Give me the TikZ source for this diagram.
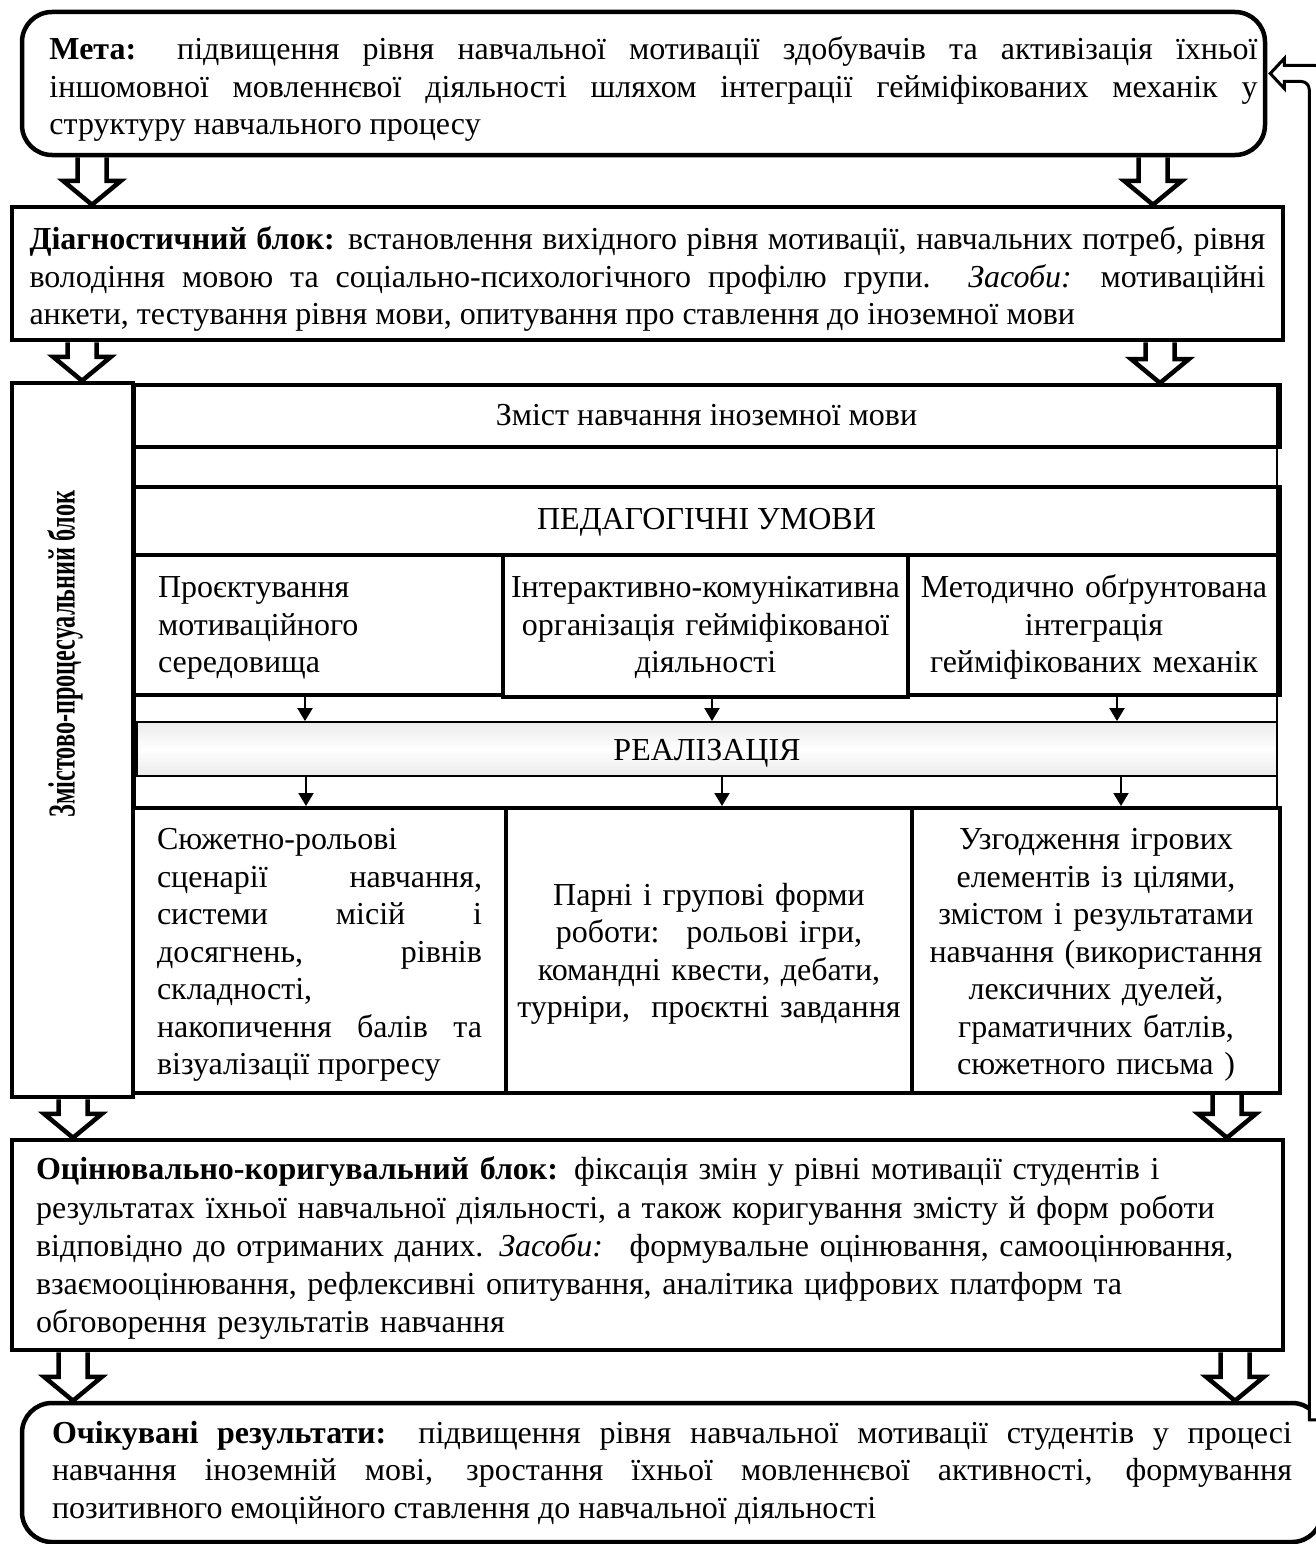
\documentclass[tikz,border=0pt]{standalone}
\usepackage{fontspec}
\usepackage{graphicx}
\setmainfont{Liberation Serif}
\usetikzlibrary{arrows.meta,calc}

\newcommand{\bodyfont}{\fontsize{32pt}{37.5pt}\selectfont\hyphenpenalty=10000\exhyphenpenalty=10000\relax}

\tikzset{
  blockbox/.style={draw, line width=4.5pt, inner sep=0pt, font=\bodyfont},
  cellbox/.style={draw, line width=4pt, inner sep=0pt, align=center, font=\bodyfont},
  lowered/.style={execute at begin node={\rule{0pt}{#1}}, execute at end node={\rule[-10pt]{0pt}{0pt}}},
  smallarrow/.style={-{Triangle[length=13pt,width=15pt]}, line width=2pt},
  hollowarrow/.style={draw, line width=4.5pt, line join=miter},
  feedback/.style={draw, fill=white, line width=3pt, line join=miter}
}

\newcommand{\hollowdown}[2]{%
  \path #1 coordinate (ha) #2 coordinate (hb);
  \draw[hollowarrow] ($(ha)+(-14.5,0)$) -- ($(hb)+(-14.5,-24)$) -- ($(hb)+(-29,-24)$) -- (hb)
    -- ($(hb)+(29,-24)$) -- ($(hb)+(14.5,-24)$) -- ($(ha)+(14.5,0)$);
}

\begin{document}
\begin{tikzpicture}[x=1pt,y=-1pt]
  \useasboundingbox (0,0) rectangle (1316,1544);

  \node[blockbox, rounded corners=30pt, minimum width=1243pt, minimum height=143pt] (goal) at (643.5,83.5) {\hspace*{20pt}\parbox{1208pt}{\rule{0pt}{37.8pt}\textbf{Мета:} підвищення рівня навчальної мотивації здобувачів та активізація їхньої\linebreak іншомовної мовленнєвої діяльності шляхом інтеграції гейміфікованих механік у\linebreak структуру навчального процесу\rule[-10pt]{0pt}{0pt}}};

  \node[blockbox, lowered=37.8pt, minimum width=1271pt, minimum height=133pt, text width=1236pt, align=justify] (diag) at (647.5,273.5) {\textbf{Діагностичний блок:} встановлення вихідного рівня мотивації, навчальних потреб, рівня\linebreak володіння мовою та соціально-психологічного профілю групи. \textit{Засоби:} мотиваційні\linebreak анкети, тестування рівня мови, опитування про ставлення до іноземної мови};

  \node[blockbox, minimum width=121pt, minimum height=714pt] (side) at (72.5,740) {};
  \node[rotate=90, font=\fontsize{38pt}{42pt}\selectfont, inner sep=0pt] (sidelabel) at (65,654) {\resizebox{327pt}{\height}{\textbf{Змістово-процесуальний блок}}};

  \node[draw, line width=2.5pt, minimum width=1142pt, minimum height=423pt, inner sep=0pt] (frame) at (706,596.5) {};

  \node[cellbox, lowered=28.8pt, minimum width=1147pt, minimum height=62pt] (content) at (706.5,416) {Зміст навчання іноземної мови};
  \node[cellbox, lowered=27.2pt, minimum width=1147pt, minimum height=68pt] (ped) at (706.5,521) {ПЕДАГОГІЧНІ УМОВИ};

  \node[cellbox, lowered=30.8pt, minimum width=370pt, minimum height=140pt, text width=320pt, align=left] (cond1) at (318,625) {Проєктування\\ мотиваційного\\ середовища};
  \node[cellbox, lowered=28.8pt, minimum width=405pt, minimum height=142pt, text width=400pt] (cond2) at (705.5,626) {Інтерактивно-комунікативна\\ організація гейміфікованої\\ діяльності};
  \node[cellbox, lowered=30.8pt, minimum width=372pt, minimum height=140pt, text width=360pt] (cond3) at (1094,625) {Методично обґрунтована\\ інтеграція\\ гейміфікованих механік};

  \node[draw, lowered=33.2pt, line width=1.8pt, top color=black!8, bottom color=black!8, middle color=white, minimum width=1140pt, minimum height=54pt, inner sep=0pt, font=\bodyfont] (real) at (707,749) {РЕАЛІЗАЦІЯ};

  \node[cellbox, lowered=33.8pt, minimum width=373pt, minimum height=285pt, text width=325pt, align=justify] (impl1) at (319.5,950.5) {Сюжетно-рольові\linebreak сценарії навчання,\linebreak системи місій і\linebreak досягнень, рівнів\linebreak складності,\linebreak накопичення балів та\linebreak візуалізації прогресу};
  \node[cellbox, lowered=31.8pt, minimum width=406pt, minimum height=285pt, text width=400pt] (impl2) at (709,950.5) {Парні і групові форми\\ роботи:~ рольові ігри,\\ командні квести, дебати,\\ турніри,~ проєктні завдання};
  \node[cellbox, lowered=33.8pt, minimum width=368pt, minimum height=285pt, text width=360pt] (impl3) at (1096,950.5) {Узгодження ігрових\\ елементів із цілями,\\ змістом і результатами\\ навчання (використання\\ лексичних дуелей,\\ граматичних батлів,\\ сюжетного письма )};

  \node[blockbox, lowered=32.8pt, font=\fontsize{32pt}{38.25pt}\selectfont, minimum width=1271pt, minimum height=210pt, text width=1223pt, align=left] (eval) at (647.5,1245) {\textbf{Оцінювально-коригувальний блок:} фіксація змін у рівні мотивації студентів і\\ результатах їхньої навчальної діяльності, а також коригування змісту й форм роботи\\ відповідно до отриманих даних. \textit{Засоби:}~ формувальне оцінювання, самооцінювання,\\ взаємооцінювання, рефлексивні опитування, аналітика цифрових платформ та\\ обговорення результатів навчання};

  \node[blockbox, rounded corners=30pt, minimum width=1300pt, minimum height=139pt, text width=1240pt, align=justify] (result) at (672,1472.5) {\textbf{Очікувані результати:} підвищення рівня навчальної мотивації студентів у процесі\linebreak навчання іноземній мові, зростання їхньої мовленнєвої активності, формування\linebreak позитивного емоційного ставлення до навчальної діяльності};

  \hollowdown{(92,0 |- goal.south)}{(92,0 |- diag.north)}
  \hollowdown{(1153,0 |- goal.south)}{(1153,0 |- diag.north)}
  \hollowdown{(82,0 |- diag.south)}{(82,0 |- side.north)}
  \hollowdown{(1160,0 |- diag.south)}{(1160,0 |- content.north)}
  \hollowdown{(73,0 |- side.south)}{(73,0 |- eval.north)}
  \hollowdown{(1227,0 |- impl3.south)}{(1227,0 |- eval.north)}
  \hollowdown{(73,0 |- eval.south)}{(73,0 |- result.north)}
  \hollowdown{(1235,0 |- eval.south)}{(1235,0 |- result.north)}

  \draw[smallarrow] (305,0 |- cond1.south) -- (305,0 |- real.north);
  \draw[smallarrow] (712,0 |- cond2.south) -- (712,0 |- real.north);
  \draw[smallarrow] (1117,0 |- cond3.south) -- (1117,0 |- real.north);
  \draw[smallarrow] (306,0 |- real.south) -- (306,0 |- impl1.north);
  \draw[smallarrow] (722,0 |- real.south) -- (722,0 |- impl2.north);
  \draw[smallarrow] (1121,0 |- real.south) -- (1121,0 |- impl3.north);

  \coordinate (fbtip) at ($(goal.east)+(3,-10)$);
  \coordinate (fbstart) at ($(result.north east)+(0,27)$);
  \draw[feedback] ($(fbstart)+(0,-8)$) -- ($(fbtip|-fbstart)+(39,-8)$) [rounded corners=8pt] -- ($(fbtip)+(39,8)$) [sharp corners] -- ($(fbtip)+(14,8)$) -- ($(fbtip)+(14,15)$) -- (fbtip) -- ($(fbtip)+(14,-15)$) -- ($(fbtip)+(14,-8)$) [rounded corners=8pt] -- ($(fbtip)+(53,-8)$) -- ($(fbtip|-fbstart)+(53,8)$) -- ($(fbstart)+(0,8)$);
\end{tikzpicture}
\end{document}
